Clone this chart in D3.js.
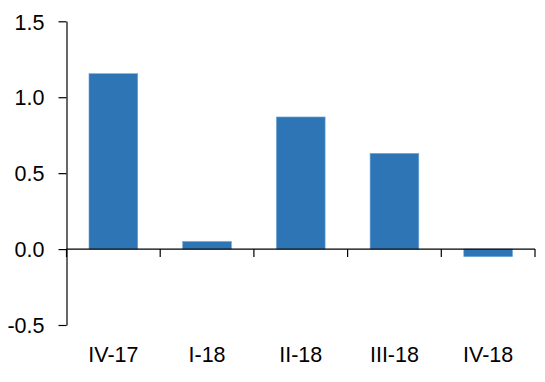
<!DOCTYPE html>
<html>
<head>
<meta charset="utf-8">
<script src="https://cdn.jsdelivr.net/npm/d3@7/dist/d3.min.js"></script>
<style>
  body { margin: 0; background: #fff; }
  svg { display: block; }
  text { font-family: "Liberation Sans", Arial, sans-serif; }
</style>
</head>
<body>
<svg id="chart" width="545" height="382"></svg>
<script>
const categories = ["IV-17", "I-18", "II-18", "III-18", "IV-18"];
const values = [1.155, 0.05, 0.87, 0.63, -0.05];
const yTicks = [-0.5, 0.0, 0.5, 1.0, 1.5];

const svg = d3.select("#chart");
const mLeft = 66.5, mRight = 535, mTop = 21.3, mBottom = 325;

const x = d3.scaleBand().domain(categories).range([mLeft, mRight]).paddingInner(0.48).paddingOuter(0.24);
const xb = d3.scaleBand().domain(categories).range([mLeft, mRight]);
const y = d3.scaleLinear().domain([-0.5, 1.5]).range([mBottom, mTop]);

// bars
svg.append("g").selectAll("rect").data(values).join("rect")
  .attr("x", (d, i) => x(categories[i]))
  .attr("width", x.bandwidth())
  .attr("y", d => y(Math.max(0, d)))
  .attr("height", d => Math.abs(y(d) - y(0)))
  .attr("fill", "#2E75B6")
  .attr("stroke", "#6FA6D8")
  .attr("stroke-width", 0.6);

// y axis
const yAxis = svg.append("g").attr("transform", `translate(${mLeft},0)`)
  .call(d3.axisLeft(y).tickValues(yTicks).tickFormat(d => d.toFixed(1)).tickSize(8).tickSizeOuter(0).tickPadding(14));
yAxis.select(".domain").attr("stroke", "#000").attr("stroke-width", 1.2);
yAxis.selectAll(".tick line").attr("stroke", "#000").attr("stroke-width", 1.2);
yAxis.selectAll(".tick text").attr("font-size", 21.5).attr("fill", "#000").attr("dy", "0.36em")
  .attr("font-family", "Liberation Sans, Arial, sans-serif");

// x axis line at zero
const y0 = y(0);
svg.append("line").attr("x1", mLeft).attr("x2", mRight).attr("y1", y0).attr("y2", y0)
  .attr("stroke", "#000").attr("stroke-width", 1.2);
const bounds = categories.map(c => xb(c)).concat([xb(categories[categories.length - 1]) + xb.bandwidth()]);
svg.append("g").selectAll("line").data(bounds).join("line")
  .attr("x1", d => d).attr("x2", d => d).attr("y1", y0).attr("y2", y0 + 8)
  .attr("stroke", "#000").attr("stroke-width", 1.2);

// x labels
const xAxis = svg.append("g").attr("transform", `translate(0,${mBottom + 22})`)
  .call(d3.axisBottom(xb).tickSize(0).tickPadding(0));
xAxis.select(".domain").remove();
xAxis.selectAll(".tick text").attr("font-size", 21.5).attr("fill", "#000")
  .attr("dy", "0.71em").attr("font-family", "Liberation Sans, Arial, sans-serif");
</script>
</body>
</html>
